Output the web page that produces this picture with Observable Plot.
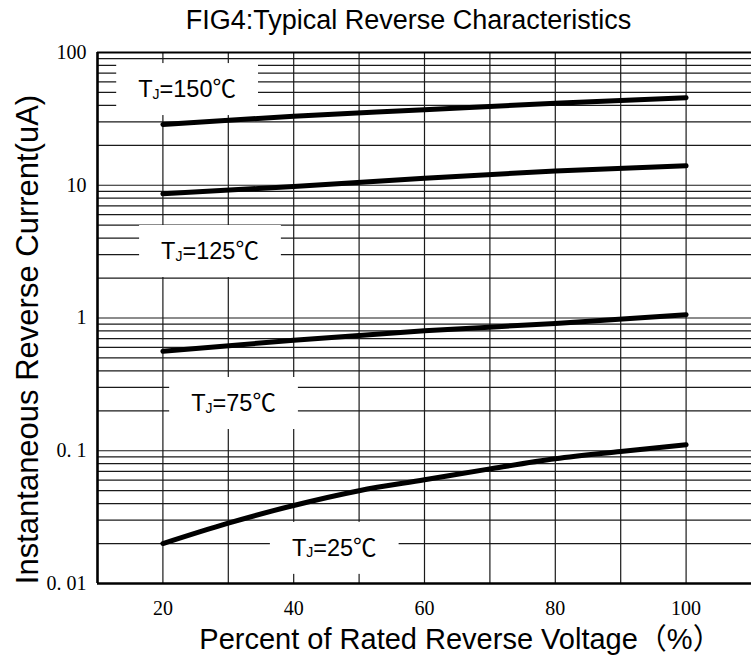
<!DOCTYPE html>
<html><head><meta charset="utf-8">
<script src="https://cdn.jsdelivr.net/npm/d3@7"></script>
<script src="https://cdn.jsdelivr.net/npm/@observablehq/plot@0.6"></script>
<style>body{margin:0;background:#fff;}</style>
</head><body><div id="chart"></div>
<script>
// ---- data ----
const percent = [20, 40, 60, 80, 100];
const tj150 = [28.7, 33.1, 37.0, 41.5, 45.6];
const tj125 = [8.62, 9.79, 11.3, 12.8, 14.0];
const tj75 = [0.562, 0.68, 0.80, 0.91, 1.06];
const percent25 = [20, 30, 40, 50, 60, 70, 80, 90, 100];
const tj25 = [0.020, 0.0285, 0.0387, 0.050, 0.0604, 0.073, 0.087, 0.0987, 0.111];

const xTicks = [20, 40, 60, 80, 100];
const xGrid = [20, 30, 40, 50, 60, 70, 80, 90, 100];
const yTicks = [0.01, 0.1, 1, 10, 100];
const yTickLabels = ["0. 01", "0. 1", "1", "10", "100"];

const labelText = ["TJ=150℃", "TJ=125℃", "TJ=75℃", "TJ=25℃"];
const labelX = [23.7, 27.2, 30.8, 46.2];
const labelY = [52.6, 3.17, 0.227, 0.0184];

const title = "FIG4:Typical Reverse Characteristics";
const xLabel = "Percent of Rated Reverse Voltage（%）";
const yLabel = "Instantaneous Reverse Current(uA)";

// ---- build tables ----
const rows = [];
percent.forEach((p, i) => rows.push({series: "150", x: p, y: tj150[i]}));
percent.forEach((p, i) => rows.push({series: "125", x: p, y: tj125[i]}));
percent.forEach((p, i) => rows.push({series: "75", x: p, y: tj75[i]}));
percent25.forEach((p, i) => rows.push({series: "25", x: p, y: tj25[i]}));

const labels = labelText.map((t, i) => ({text: t, x: labelX[i], y: labelY[i]}));

const yGrid = [];
for (let k = -2; k <= 1; k++) for (let m = 1; m <= 9; m++) yGrid.push(+(m * Math.pow(10, k)).toPrecision(3));
yGrid.push(100);

const sans = "'Liberation Sans', Arial, 'Noto Sans CJK SC', sans-serif";
const serif = "'Liberation Serif', 'Times New Roman', serif";

const chart = Plot.plot({
  width: 751,
  height: 655,
  marginLeft: 97,
  marginRight: 0,
  marginTop: 52,
  marginBottom: 72,
  style: {fontFamily: sans, background: "#fff", color: "#000"},
  x: {domain: [10, 110]},
  y: {type: "log", domain: [0.01, 100]},
  marks: [
    Plot.ruleY(yGrid, {stroke: "#1a1a1a", strokeWidth: 1.2}),
    Plot.ruleX(xGrid, {stroke: "#1a1a1a", strokeWidth: 1.2}),
    Plot.ruleX([10], {stroke: "#000", strokeWidth: 2.6}),
    Plot.ruleY([0.01], {stroke: "#000", strokeWidth: 2.6}),
    Plot.ruleY([100], {stroke: "#000", strokeWidth: 2}),
    Plot.line(rows, {x: "x", y: "y", z: "series", stroke: "#000", strokeWidth: 5,
      strokeLinecap: "round", strokeLinejoin: "round", curve: "monotone-x"}),
    Plot.text(labels, {x: "x", y: "y", text: "text", fontSize: 23.5, fill: "#000",
      fontFamily: sans, ariaDescription: "tj-label"}),
    Plot.axisY({ticks: yTicks, tickFormat: d => yTickLabels[yTicks.indexOf(d)],
      tickSize: 0, tickPadding: 11, fontSize: 20, fontFamily: serif, label: null}),
    Plot.axisX({ticks: xTicks, tickFormat: d => String(d), tickSize: 0, tickPadding: 17,
      fontSize: 20, fontFamily: serif, label: null}),
    Plot.text([title], {frameAnchor: "top", dx: -16, dy: -24, lineAnchor: "bottom",
      fontSize: 27, fill: "#000"}),
    Plot.text([xLabel], {frameAnchor: "bottom", dx: 36, dy: 65, lineAnchor: "bottom",
      fontSize: 29, fill: "#000"}),
    Plot.text([yLabel], {frameAnchor: "left", textAnchor: "middle", rotate: -90, dx: -60, dy: 21.5,
      lineAnchor: "bottom", fontSize: 31, fill: "#000"})
  ]
});

document.getElementById("chart").append(chart);

// subscript J and white label boxes
d3.select(chart).selectAll('g[aria-description="tj-label"] text').each(function () {
  const t = d3.select(this);
  const s = t.text();
  t.text(null);
  t.append("tspan").text(s[0]);
  t.append("tspan").attr("font-size", "14px").attr("dy", "1.5").text(s[1]);
  t.append("tspan").attr("dy", "-1.5").text(s.slice(2));
  const bb = this.getBBox();
  const padX = 22, h = 52;
  const cy = bb.y + bb.height / 2;
  const node = this;
  d3.select(this.parentNode).insert("rect", () => node)
    .attr("transform", t.attr("transform"))
    .attr("x", bb.x - padX).attr("width", bb.width + 2 * padX)
    .attr("y", cy - h / 2).attr("height", h)
    .attr("fill", "#fff").attr("stroke", "none");
});
</script>
</body></html>
